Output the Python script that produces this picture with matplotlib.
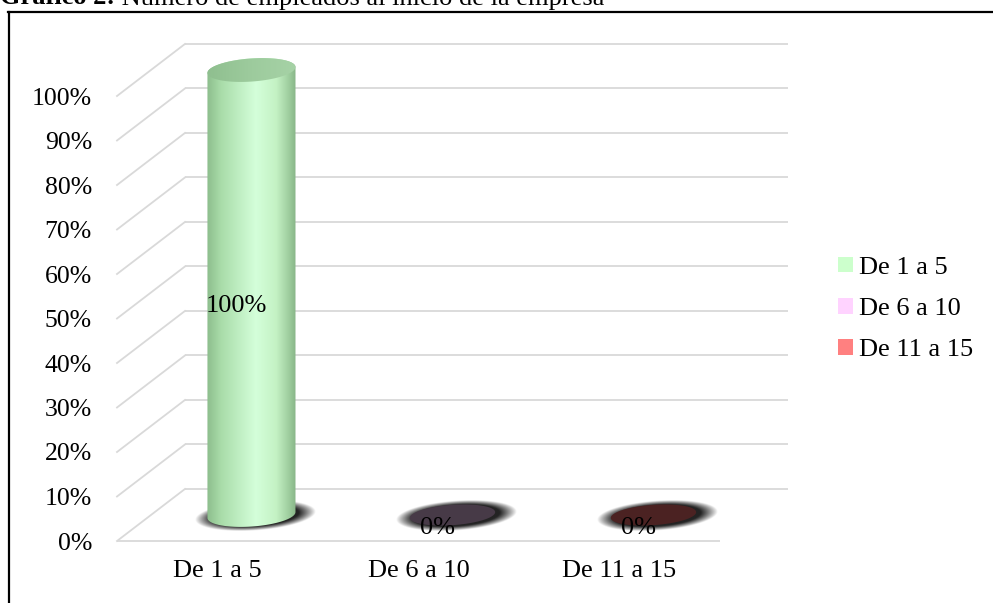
import numpy as np
import matplotlib
matplotlib.use("Agg")
import matplotlib.pyplot as plt
from matplotlib.patches import Polygon, Patch
from matplotlib.lines import Line2D
from matplotlib.colors import LinearSegmentedColormap

# ---- data ----
categories = ["De 1 a 5", "De 6 a 10", "De 11 a 15"]
values = [100, 0, 0]
value_labels = ["100%", "0%", "0%"]
y_ticks = list(range(0, 101, 10))
y_tick_labels = [f"{t}%" for t in y_ticks]
legend_colors = ["#CCFFCC", "#FFD3FF", "#FF8080"]
top_colors = ["#9DCB9D", "#473A47", "#4B2222"]
title_bold = "Gráfico 2:"
title_rest = " Número de empleados al inicio de la empresa"

plt.rcParams['font.family'] = ['Liberation Serif', 'DejaVu Serif']

W, H = 993, 603
fig = plt.figure(figsize=(W / 100, H / 100), dpi=100)
ax = fig.add_axes([117 / W, 62 / H, 603 / W, 445 / H])
ax.patch.set_visible(False)
for s in ax.spines.values():
    s.set_visible(False)

# pseudo-3D depth offset (in data units) and cylinder geometry
DX, DY = 0.338, 11.69
A_CYL, B_CYL = 0.219, 2.6
SHEAR = 3.0
grid_c = "#D9D9D9"

# back wall gridlines + side wall diagonals
for t in y_ticks:
    ax.plot([-0.5 + DX, 2.5 + DX], [t + DY, t + DY], color=grid_c, lw=1.3,
            clip_on=False, zorder=1, solid_capstyle='butt')
    ax.plot([-0.5, -0.5 + DX], [t, t + DY], color=grid_c, lw=1.3,
            clip_on=False, zorder=1)
ax.plot([-0.5, 2.5], [0, 0], color=grid_c, lw=1.3, clip_on=False, zorder=1,
        solid_capstyle='butt')


def ellipse_pts(cx, cy, a, b, t):
    x = cx + a * np.cos(t)
    y = cy + b * np.sin(t) + SHEAR * (a * np.cos(t))
    return np.column_stack([x, y])


def soft_ellipse(cx, cy, A, B, peak, z):
    xs = np.linspace(cx - 1.3 * A, cx + 1.3 * A, 300)
    ys = np.linspace(cy - 1.5 * B - SHEAR * A, cy + 1.5 * B + SHEAR * A, 180)
    X, Y = np.meshgrid(xs, ys)
    r = np.sqrt(((X - cx) / A) ** 2 + ((Y - cy - SHEAR * (X - cx)) / B) ** 2)
    alpha = peak * np.clip((1 - r) / 0.28, 0, 1) ** 0.9
    img = np.zeros(X.shape + (4,))
    img[..., :3] = 0.14
    img[..., 3] = alpha
    ax.imshow(img, extent=[xs[0], xs[-1], ys[0], ys[-1]], origin='lower',
              aspect='auto', zorder=z, clip_on=False, interpolation='bilinear')


body_cmap = LinearSegmentedColormap.from_list(
    "cyl", [(0.0, "#8DBD8D"), (0.15, "#A8DBA8"), (0.55, "#D4FFDA"),
            (0.78, "#C4F2C4"), (0.93, "#9CCB9C"), (1.0, "#88B588")])
top_cmap = LinearSegmentedColormap.from_list(
    "cyltop", [(0.0, "#8FBF8F"), (0.5, "#9DCB9D"), (1.0, "#A6D2A6")])

for i, (v, tc) in enumerate(zip(values, top_colors)):
    cx = i + DX / 2
    y0 = DY / 2
    y1 = v + DY / 2
    # soft shadow on the floor
    soft_ellipse(cx + 0.02, y0 - 0.2, 0.30, 3.3, 1.0, 2)
    if v > 0:
        t_bot = np.linspace(np.pi, 2 * np.pi, 80)
        t_top = np.linspace(0, np.pi, 80)
        pts = np.vstack([ellipse_pts(cx, y0, A_CYL, B_CYL, t_bot),
                         ellipse_pts(cx, y1, A_CYL, B_CYL, t_top)])
        body = Polygon(pts, closed=True, facecolor='none', edgecolor='none',
                       transform=ax.transData, clip_on=False)
        ax.add_patch(body)
        grad = np.linspace(0, 1, 256)[None, :]
        im = ax.imshow(grad, cmap=body_cmap, aspect='auto', origin='lower',
                       extent=[cx - A_CYL, cx + A_CYL, y0 - 2 * B_CYL - 2,
                               y1 + 2 * B_CYL + 2],
                       zorder=3)
        im.set_clip_path(body)
        im.set_clip_box(fig.bbox)
        top = Polygon(ellipse_pts(cx, y1, A_CYL, B_CYL,
                                  np.linspace(0, 2 * np.pi, 120)),
                      closed=True, facecolor='none', edgecolor='none',
                      clip_on=False)
        ax.add_patch(top)
        im2 = ax.imshow(grad, cmap=top_cmap, aspect='auto', origin='lower',
                        extent=[cx - A_CYL, cx + A_CYL, y1 - 2 * B_CYL - 2,
                                y1 + 2 * B_CYL + 2],
                        zorder=4)
        im2.set_clip_path(top)
        im2.set_clip_box(fig.bbox)
    else:
        top = Polygon(ellipse_pts(cx, y1, A_CYL * 0.97, B_CYL * 0.88,
                                  np.linspace(0, 2 * np.pi, 120)),
                      closed=True, facecolor=tc, edgecolor='none', zorder=4,
                      clip_on=False)
        ax.add_patch(top)

# value labels
for i, (v, lab) in enumerate(zip(values, value_labels)):
    ax.text(i + 0.095, v / 2 + 2.9, lab, ha='center', va='center',
            fontsize=19, color='black', zorder=6)

ax.set_xlim(-0.5, 2.5)
ax.set_ylim(0, 100)
ax.set_yticks(y_ticks, y_tick_labels)
ax.set_xticks(range(len(categories)), categories)
ax.tick_params(axis='y', length=0, pad=18, labelsize=18.5)
ax.tick_params(axis='x', length=0, pad=14, labelsize=19)

# legend
handles = [Patch(facecolor=c, edgecolor='none', label=l)
           for c, l in zip(legend_colors, categories)]
fig.legend(handles=handles, loc='center left',
           bbox_to_anchor=(838 / W, 1 - 309 / H), frameon=False, fontsize=19,
           handlelength=0.55, handleheight=0.55, handletextpad=0.25,
           labelspacing=0.72, borderpad=0, borderaxespad=0)

# frame
fig.add_artist(Line2D([8.5 / W, 8.5 / W], [0, 1 - 12 / H], color='black',
                      lw=1.6, transform=fig.transFigure))
fig.add_artist(Line2D([8 / W, 1], [1 - 12 / H, 1 - 12 / H], color='black',
                      lw=1.6, transform=fig.transFigure))

# title, partially above the top edge
t1 = fig.text(0, 1 - 4.5 / H, title_bold, fontsize=19, weight='bold',
              va='baseline', ha='left')
renderer = fig.canvas.get_renderer()
bb = t1.get_window_extent(renderer)
fig.text(bb.x1 / W, 1 - 4.5 / H, title_rest, fontsize=19, va='baseline',
         ha='left')

fig.savefig("out.png", dpi=100)
